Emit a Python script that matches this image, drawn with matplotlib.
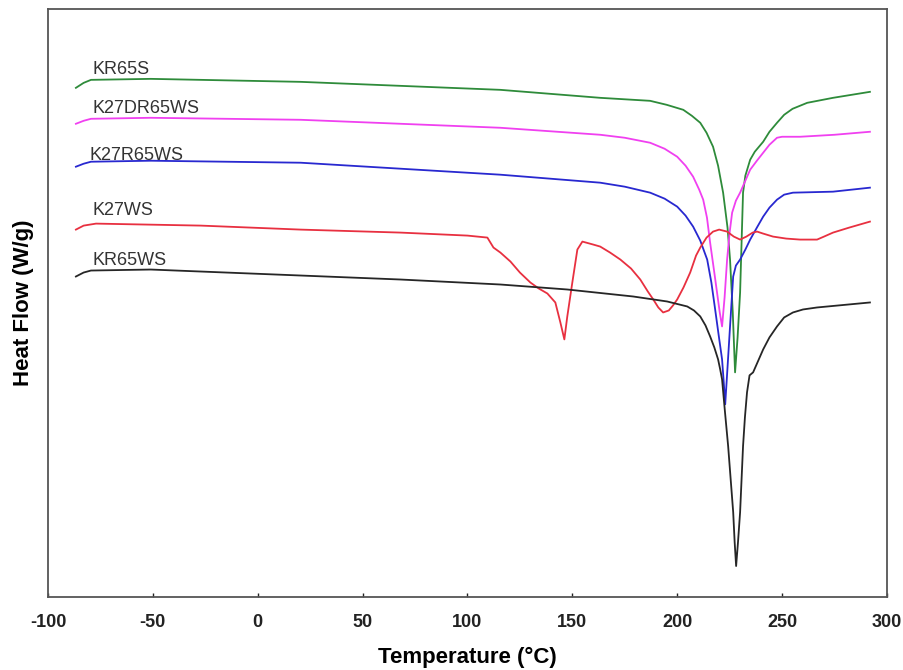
import matplotlib.pyplot as plt
import numpy as np

plt.rcParams['font.family'] = ['Liberation Sans', 'DejaVu Sans']
plt.rcParams['axes.unicode_minus'] = False

## Data (temperature in C, heat flow in arbitrary units)
names = ["KR65S", "K27DR65WS", "K27R65WS", "K27WS", "KR65WS"]
colors = ["#2e8b3a", "#f040f0", "#2828d0", "#e83040", "#262626"]

t_kr65s = [-86.7, -83, -79.5, -51, 20.5, 115.7, 163.3, 187.1, 195, 202.9, 207, 211, 214,
           217.1, 219.5, 221.9, 224, 225.2, 226.5, 227.6, 228.8, 230, 231.4, 232.5,
           234.8, 237, 241, 244, 247.6, 251, 255, 262, 274.3, 291.9]
hf_kr65s = [5.10, 5.15, 5.18, 5.19, 5.16, 5.08, 5.00, 4.97, 4.93, 4.88, 4.82, 4.75, 4.65,
            4.51, 4.32, 4.05, 3.70, 3.38, 2.85, 2.25, 2.60, 3.05, 4.05, 4.22,
            4.38, 4.46, 4.56, 4.66, 4.75, 4.83, 4.89, 4.95, 5.00, 5.06]

t_k27dr = [-86.7, -83, -79.5, -51, 20.5, 115.7, 163.3, 175, 187.1, 194, 200, 204, 207.6,
           210.5, 212.4, 214.2, 215.7, 217.5, 219, 220.3, 221.4, 222.6, 223.8, 225,
           226.2, 228, 230, 232.5, 234.8, 238, 241, 244, 247.6, 250, 258.6, 275, 291.9]
hf_k27dr = [4.74, 4.77, 4.79, 4.80, 4.78, 4.70, 4.63, 4.60, 4.55, 4.49, 4.41, 4.32, 4.21,
            4.08, 3.98, 3.80, 3.55, 3.28, 3.05, 2.85, 2.71, 3.00, 3.38, 3.65,
            3.85, 3.97, 4.05, 4.17, 4.28, 4.37, 4.45, 4.53, 4.60, 4.61, 4.61, 4.63, 4.66]

t_k27r = [-86.7, -83, -79.5, -51, 20.5, 115.7, 163.3, 175, 187.1, 194, 200, 204, 207.6,
          211, 214.3, 216.3, 218.1, 219.8, 221.4, 222.2, 222.9, 224, 225.2, 226.7,
          228, 230, 232.5, 234.8, 238, 241, 244, 247.6, 251, 255.2, 274.3, 291.9]
hf_k27r = [4.31, 4.34, 4.36, 4.37, 4.35, 4.23, 4.15, 4.11, 4.05, 3.99, 3.91, 3.82, 3.71,
           3.57, 3.38, 3.15, 2.88, 2.62, 2.38, 2.15, 1.93, 2.30, 2.71, 3.21,
           3.32, 3.38, 3.48, 3.58, 3.70, 3.81, 3.90, 3.98, 4.03, 4.05, 4.06, 4.10]

t_k27ws = [-86.7, -83, -77.1, -27.1, 20.5, 68.1, 100, 109.5, 112.4, 115.7, 120.5, 125,
           130, 134, 138.1, 141.9, 144.3, 146.2, 147.6, 150, 152.4, 154.8, 160, 163.3,
           168, 172.9, 178, 182.4, 186, 188.6, 191, 193.3, 196, 198, 200, 203, 206.2,
           209, 211, 214, 217.1, 220, 223.8, 227, 230, 233, 236, 238.1, 241, 245.7,
           252, 258.6, 266.7, 270, 274.3, 282, 291.9]
hf_k27ws = [3.68, 3.72, 3.74, 3.72, 3.68, 3.65, 3.62, 3.60, 3.50, 3.45, 3.36, 3.25,
            3.15, 3.09, 3.04, 2.95, 2.75, 2.58, 2.81, 3.15, 3.48, 3.56, 3.53, 3.51,
            3.45, 3.38, 3.29, 3.18, 3.06, 2.98, 2.90, 2.85, 2.87, 2.92, 2.98, 3.10, 3.25,
            3.42, 3.50, 3.60, 3.66, 3.68, 3.66, 3.61, 3.58, 3.61, 3.65, 3.66, 3.64, 3.61,
            3.59, 3.58, 3.58, 3.61, 3.65, 3.70, 3.76]

t_kr65ws = [-86.7, -83, -79.5, -51, -3.3, 68.1, 115.7, 147.6, 179, 195.2, 204.8, 208,
            211, 213.5, 215.7, 217.7, 219.5, 220.5, 221.4, 222.8, 224.3, 225.5, 226.7,
            227.4, 228.1, 229, 230, 230.7, 231.4, 232.3, 233.3, 234.5, 236.2, 238.5,
            241, 244, 247.6, 251, 255.2, 260, 266.7, 291.9]
hf_kr65ws = [3.21, 3.25, 3.27, 3.28, 3.24, 3.18, 3.13, 3.08, 3.01, 2.96, 2.91, 2.87,
             2.81, 2.72, 2.61, 2.50, 2.38, 2.28, 2.18, 1.85, 1.51, 1.18, 0.85,
             0.55, 0.31, 0.55, 0.85, 1.18, 1.51, 1.80, 2.05, 2.22, 2.25, 2.36,
             2.48, 2.60, 2.71, 2.80, 2.85, 2.88, 2.90, 2.95]

temps = [t_kr65s, t_k27dr, t_k27r, t_k27ws, t_kr65ws]
flows = [hf_kr65s, hf_k27dr, hf_k27r, hf_k27ws, hf_kr65ws]

# label anchor (left edge, baseline)
label_t = [-78.6, -78.6, -80.0, -78.6, -78.6]
label_hf = [5.24, 4.85, 4.38, 3.83, 3.33]

fig = plt.figure(figsize=(9.04, 6.70), dpi=100)
ax = fig.add_axes([0.0531, 0.109, 0.928, 0.8776])

for t, hf, c in zip(temps, flows, colors):
    ax.plot(t, hf, color=c, lw=1.3)

for name, lt, lh in zip(names, label_t, label_hf):
    ax.text(lt, lh, name, fontsize=13, color="#333333", ha="left", va="baseline")

ax.set_xlim(-100, 300)
ax.set_ylim(0, 5.89)
ax.set_xticks(np.arange(-100, 301, 50))
ax.set_yticks([])
ax.tick_params(axis="x", direction="in", length=3, width=1, pad=12,
               labelsize=13, colors="#222222")
for lab in ax.get_xticklabels():
    lab.set_fontweight("bold")
for s in ax.spines.values():
    s.set_color("#555555")
    s.set_linewidth(1.3)

ax.set_xlabel("Temperature (°C)", fontsize=16, fontweight="bold", labelpad=12)
ax.set_ylabel("Heat Flow (W/g)", fontsize=16, fontweight="bold", labelpad=10)

plt.savefig("out.png")
